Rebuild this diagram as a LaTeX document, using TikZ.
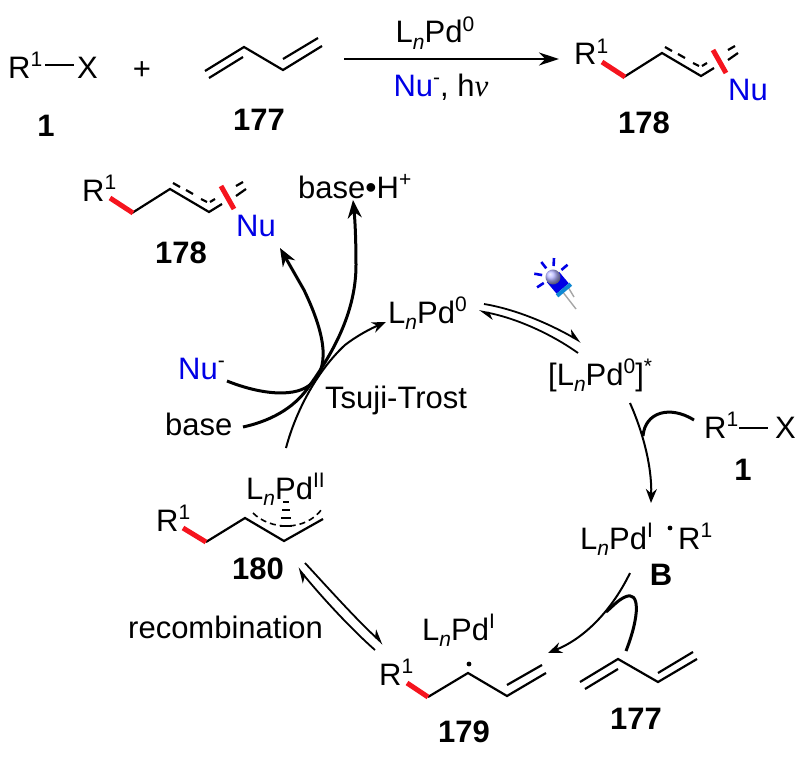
\documentclass[tikz,border=0pt]{standalone}
\usepackage{fontspec}
\setmainfont{Liberation Sans}
\newfontfamily\nufont{Liberation Serif}
\usetikzlibrary{arrows.meta,positioning,calc}
\newcommand{\sups}[1]{\raisebox{.38em}{\fontsize{21}{21}\selectfont #1}}
\newcommand{\subn}{\raisebox{-.2em}{\fontsize{21}{21}\selectfont\itshape n}}
\newcommand{\Lnpd}[1]{L\subn Pd\sups{#1}}
\newcommand{\Rone}{R\sups{1}}
\definecolor{nublue}{RGB}{0,0,230}
\definecolor{bondred}{RGB}{245,20,30}
\tikzset{
  lbl/.style={inner sep=0pt,anchor=base west,font=\fontsize{31}{33}\selectfont},
  num/.style={inner sep=0pt,anchor=base,font=\fontsize{31}{33}\selectfont\bfseries},
  bond/.style={line width=2.2pt,line join=miter},
  redbond/.style={line width=5pt,color=bondred},
  thinarrow/.style={line width=2pt,-{Stealth[length=14pt,width=11pt]}},
  thickarrow/.style={line width=3pt,-{Stealth[length=18pt,width=14pt]}},
  halfarrow/.style={line width=1.8pt,-{Stealth[harpoon,length=13pt,width=12pt]}},
  curly/.style={line width=3pt},
  dashbond/.style={line width=2.2pt},
}
\begin{document}
\begin{tikzpicture}[x=1pt,y=-1pt]
\useasboundingbox (0,0) rectangle (804,760);
% top equation
\node[lbl] (rx) at (8,78) {\Rone};
\node[lbl] (x) at (77,78) {X};
\draw[bond] (45,65) -- (74,65);
\node[lbl,anchor=base] (plus) at (142,80) {+};
\node[num] (one) at (46,136) {1};
\draw[bond] (205,71) -- (244,47) -- (283,70) -- (322,46);
\draw[bond] (209,78) -- (243,57);
\draw[bond] (283,59) -- (318,38);
\node[num] (dieneA) at (259,131) {177};
\coordinate (arrowa) at (344,59);
\coordinate (arrowb) at (559,59);
\draw[line width=2pt,-{Stealth[length=20pt,width=13pt]}] (arrowa) -- (arrowb);
\node[lbl,anchor=base] (cat) at (435,43) {\Lnpd{0}};
\node[lbl,anchor=base] (cond) at (441,96) {\textcolor{nublue}{Nu}\sups{-}, h{\nufont\itshape ν}};
% product, twice
\foreach \dx/\dy/\name in {0/0/top,-492/136/cyc} {
\begin{scope}[shift={(\dx,\dy)}]
  \node[lbl] (r\name) at (574,65) {\Rone};
  \node[lbl,text=nublue] (nu\name) at (728,100) {Nu};
  \draw[bond] (624,77) -- (662,53) -- (701,76) -- (714,68);
  \draw[redbond] (602,62) -- (625,77);
  \draw[redbond] (713,50) -- (726,73);
  \foreach \a/\b/\c/\d in {665/47/672/51,678/54/685/58,693/63/699/66,702/66/707/63,728/50/735/46,728/60/738/53}
    \draw[dashbond] (\a,\b) -- (\c,\d);
\end{scope}}
\node[num] (prodtop) at (644,133) {178};
\node[num] (prodcyc) at (181,263) {178};
\node[lbl] (baseh) at (298,198) {base{\fontsize{32}{32}\selectfont\textbullet}H\sups{+}};
% catalytic cycle labels
\node[lbl] (pdzero) at (388,323) {\Lnpd{0}};
\node[lbl] (pdstar) at (548,385) {[\Lnpd{0}]\sups{*}};
\node[lbl] (rxb) at (704,438) {\Rone};
\node[lbl] (xb) at (775,438) {X};
\draw[bond] (739,428) -- (768,428);
\node[num] (oneb) at (743,480) {1};
\node[lbl] (pdb) at (580,549) {\Lnpd{I}};
\fill (670,528) circle (2.4);
\node[lbl] (rb) at (678,549) {\Rone};
\node[num] (bb) at (661,585) {B};
\node[lbl] (tsuji) at (325,408) {Tsuji-Trost};
\node[lbl,text=nublue] (nuin) at (178,379) {Nu\textcolor{black}{\sups{-}}};
\node[lbl] (basein) at (165,435) {base};
\node[lbl] (recomb) at (128,638) {recombination};
% 180
\node[lbl] (rpi) at (156,531) {\Rone};
\node[lbl] (pdpi) at (246,499) {\Lnpd{II}};
\draw[bond] (206,542) -- (245,518) -- (284,541) -- (323,519);
\draw[redbond] (183,528) -- (206,542);
\draw[line width=1.6pt,dash pattern=on 6pt off 4pt] (253,513) .. controls (270,530) and (305,532) .. (322,509);
\foreach \y/\w in {502/3,510/4,518/5,526/6}
  \draw[line width=2.4pt] (286-\w,\y) -- (286+\w,\y);
\node[num] (pi) at (258,579) {180};
% 179
\node[lbl] (rrad) at (379,685) {\Rone};
\node[lbl] (pdrad) at (422,640) {\Lnpd{I}};
\draw[bond] (428,697) -- (468,673) -- (507,696) -- (546,673);
\draw[bond] (507,685) -- (542,665);
\draw[redbond] (407,683) -- (428,697);
\fill (469,664) circle (2.4);
\node[num] (rad) at (464,742) {179};
% diene, cycle
\draw[bond] (580,682) -- (618,659) -- (658,682) -- (697,659);
\draw[bond] (585,689) -- (618,669);
\draw[bond] (658,673) -- (693,652);
\node[num] (dieneB) at (636,729) {177};
% cycle arrows
\draw[halfarrow] (484,304) .. controls (520,310) and (555,327) .. (581,342);
\draw[halfarrow] (578,353) .. controls (550,333) and (515,318) .. (479,311);
\draw[thinarrow] (630,403) .. controls (642,430) and (652,465) .. (651,503);
\draw[curly] (694,420) .. controls (670,405) and (645,412) .. (643,436);
\draw[thinarrow] (630,573) .. controls (612,610) and (585,638) .. (548,653);
\draw[curly] (626,651) .. controls (640,615) and (640,590) .. (625,597) .. controls (618,600) and (612,607) .. (606,612);
\draw[halfarrow] (305,563) .. controls (330,590) and (355,618) .. (383,644);
\draw[halfarrow] (375,650) .. controls (350,628) and (320,595) .. (298,568);
\draw[thinarrow] (286,448) .. controls (296,410) and (318,370) .. (345,345) .. controls (358,335) and (372,328) .. (386,322);
\draw[thickarrow] (227,381) .. controls (262,395) and (297,398) .. (312,383) .. controls (328,368) and (328,340) .. (304,290) -- (280,248);
\draw[thickarrow] (243,427) .. controls (275,420) and (297,405) .. (310,385) .. controls (335,350) and (356,310) .. (356,265) .. controls (356,240) and (355,220) .. (353,200);
% LED
\draw[line width=1.4pt,color=gray!70] (562,291) -- (576,309);
\draw[line width=1.4pt,color=gray!70] (568,287) -- (574,297);
\begin{scope}[shift={(553,277)},rotate=-50]
  \fill[color=blue!90!black] (0,-8) rectangle (15,8);
  \fill[color=cyan!70!blue] (15,-9) rectangle (19,9);
  \shade[ball color=blue!30] (0,0) circle (7.5);
\end{scope}
\foreach \ang in {-170,-128,-87,-40,147}
  \draw[line width=2.6pt,color=blue!90!black] (553,277) ++(\ang:11) -- ++(\ang:8);
\end{tikzpicture}
\end{document}
